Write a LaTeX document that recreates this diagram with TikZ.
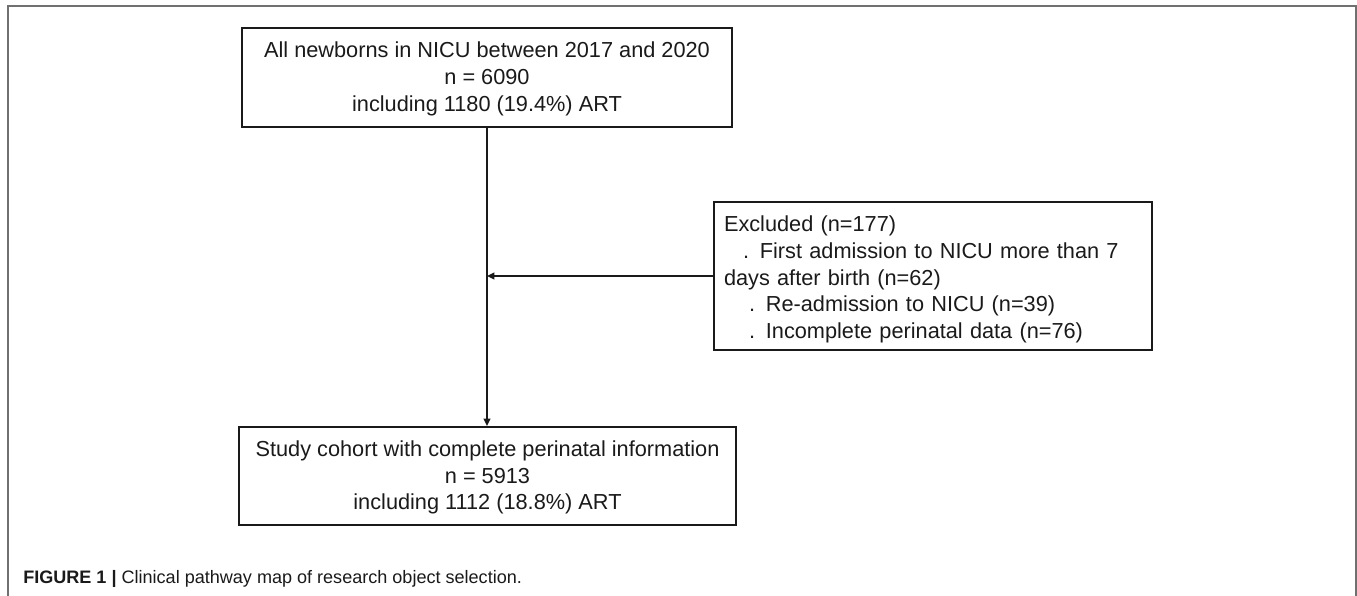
\documentclass[tikz,border=0pt]{standalone}
\usepackage{fontspec}
\usepackage{graphicx}
\setmainfont{Liberation Sans}
\usetikzlibrary{arrows.meta}
\definecolor{ink}{HTML}{1A1A1A}
\definecolor{framegray}{HTML}{707070}
\begin{document}
\begin{tikzpicture}[x=0.75pt,y=-0.75pt,
  box/.style={draw=ink, line width=1.5pt, text=ink, inner sep=0pt,
    font=\fontsize{16.3}{20}\selectfont},
  conn/.style={draw=ink, line width=1.4pt, -{Triangle[length=5.5pt,width=5pt]}}]
\useasboundingbox (0,0) rectangle (1357,596);
% outer frame (no bottom edge)
\draw[framegray, line width=1.5pt] (8,596) -- (8,6) -- (1356,6) -- (1356,596);
% nodes
\node[box, anchor=north west, minimum width=490*0.75pt, minimum height=99*0.75pt, align=center]
  (top) at (241,27) {\rule{0pt}{14pt}All newborns in NICU between 2017 and 2020\\ n = 6090\\ including 1180 (19.4\%) ART};
\node[box, anchor=north west, minimum width=438*0.75pt, minimum height=148*0.75pt,
  text width=418*0.75pt, align=left]
  (excl) at (713,201) {\rule{0pt}{17pt}Excluded (n=177)\\
  \hspace*{14.25pt}. First admission to NICU more than 7\\
  days after birth (n=62)\\
  \hspace*{18.75pt}. Re-admission to NICU (n=39)\\
  \hspace*{18.75pt}. Incomplete perinatal data (n=76)};
\node[box, anchor=north west, minimum width=497*0.75pt, minimum height=98*0.75pt, align=center]
  (bot) at (238,426) {\rule{0pt}{14pt}Study cohort with complete perinatal information\\ n = 5913\\ including 1112 (18.8\%) ART};
\coordinate (join) at (top.south |- excl.west);
% connectors
\draw[conn] (top.south) -- (top.south |- bot.north);
\draw[conn] (excl.west) -- (join);
% caption
\node[anchor=base west, inner sep=0pt, text=ink, font=\fontsize{13.8}{16}\selectfont]
  (cap) at (23,583) {\resizebox{374pt}{!}{\textbf{FIGURE 1 |} Clinical pathway map of research object selection.}};
\end{tikzpicture}
\end{document}
